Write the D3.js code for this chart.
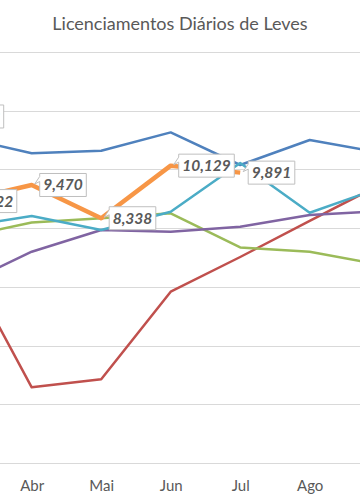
<!DOCTYPE html>
<html><head><meta charset="utf-8">
<script src="https://cdn.jsdelivr.net/npm/d3@7"></script>
<style>html,body{margin:0;padding:0;background:#fff;overflow:hidden;}svg{display:block;}</style>
</head><body>
<svg id="c" width="360" height="504"></svg>
<script>
const title = "Licenciamentos Diários de Leves";
const months = ["Jan","Fev","Mar","Abr","Mai","Jun","Jul","Ago","Set","Out","Nov","Dez"];
const shownMonths = ["Abr","Mai","Jun","Jul","Ago"];
const yTicks = [0,2000,4000,6000,8000,10000,12000,14000];
// series values (null = not visible / no data)
const serieA = [null,null,11095,10552,10638,11261,10151,11003,10577,null,null,null]; // blue
const serieB = [null,null,6980,2579,2851,5835,7017,8247,9466,null,null,null];        // red
const serieC = [null,null,7685,8192,8336,8506,7341,7198,6758,null,null,null];        // green
const serieD = [null,null,6057,7198,7937,7879,8049,8448,8574,null,null,null];        // purple
const serieE = [null,null,8039,8414,7937,8560,10219,8526,9361,null,null,null];       // teal
const serieF = [null,11803,8922,9470,8338,10129,9891,null,null,null,null,null];      // orange (labelled)

const series = [
  {vals: serieA, color:"#4F81BD", w:2.5},
  {vals: serieB, color:"#C0504D", w:2.5},
  {vals: serieC, color:"#9BBB59", w:2.5},
  {vals: serieD, color:"#8064A2", w:2.5},
  {vals: serieE, color:"#4BACC6", w:2.5},
  {vals: serieF, color:"#F79646", w:4.5, labels:true}
];

const svg = d3.select("#c");
const plotTop = 52, plotBottom = 463;
const step = 69.5, xAbr = 31.7;
const x = d3.scalePoint().domain(months)
  .range([xAbr - 3*step, xAbr + 8*step]);
const y = d3.scaleLinear().domain([0,14000]).range([plotBottom, plotTop]);

svg.append("text").attr("x",180).attr("y",30).attr("text-anchor","middle")
  .attr("font-family","Lato, 'Open Sans', sans-serif").attr("font-size",18)
  .attr("fill","#595959").text(title);

// gridlines
const grid = svg.append("g").attr("transform","translate(-200,0)")
  .call(d3.axisLeft(y).tickValues(yTicks).tickSize(-800).tickFormat(""));
grid.select(".domain").remove();
grid.selectAll("line").attr("stroke","#D9D9D9").attr("stroke-width",1).attr("shape-rendering","crispEdges");

// x axis labels
const xa = svg.append("g").attr("transform",`translate(0,${plotBottom})`)
  .call(d3.axisBottom(x).tickValues(shownMonths).tickSize(0).tickPadding(0));
xa.select(".domain").remove();
xa.selectAll("text").attr("dy",null).attr("y",28)
  .attr("font-family","Lato, 'Open Sans', sans-serif").attr("font-size",15).attr("fill","#595959");

const line = d3.line().defined(d => d.v != null).x(d => x(d.m)).y(d => y(d.v));
series.forEach(s => {
  const pts = months.map((m,i) => ({m, v:s.vals[i]}));
  svg.append("path").datum(pts).attr("d", line).attr("fill","none")
    .attr("stroke", s.color).attr("stroke-width", s.w).attr("stroke-linejoin","round");
});

// callout labels
const fmt = d3.format(",");
const lab = series.find(s => s.labels);
const lg = svg.append("g");
months.forEach((m,i) => {
  const v = lab.vals[i];
  if (v == null) return;
  const px = x(m), py = y(v);
  const g = lg.append("g");
  const t = g.append("text").attr("font-family","Lato, sans-serif").attr("font-size",15.5)
    .attr("font-weight","bold").attr("font-style","italic").attr("fill","#595959")
    .attr("text-anchor","middle").text(fmt(v));
  const tw = t.node().getComputedTextLength();
  const bw = tw + 7, bh = 23;
  let left = px + 8;
  if (m === "Fev") left = px + 111 - bw;
  const topY = py - bh/2;
  t.attr("x", left + bw/2).attr("y", py + 5.5);
  const r = left + bw, b = topY + bh;
  g.insert("path","text").attr("d",
    `M${left},${topY} H${r} V${b} H${left} V${topY+8} L${px+3},${py-1} L${left},${topY+3} Z`)
    .attr("fill","#fff").attr("stroke","#BFBFBF").attr("stroke-width",1);
});
</script>
</body></html>
